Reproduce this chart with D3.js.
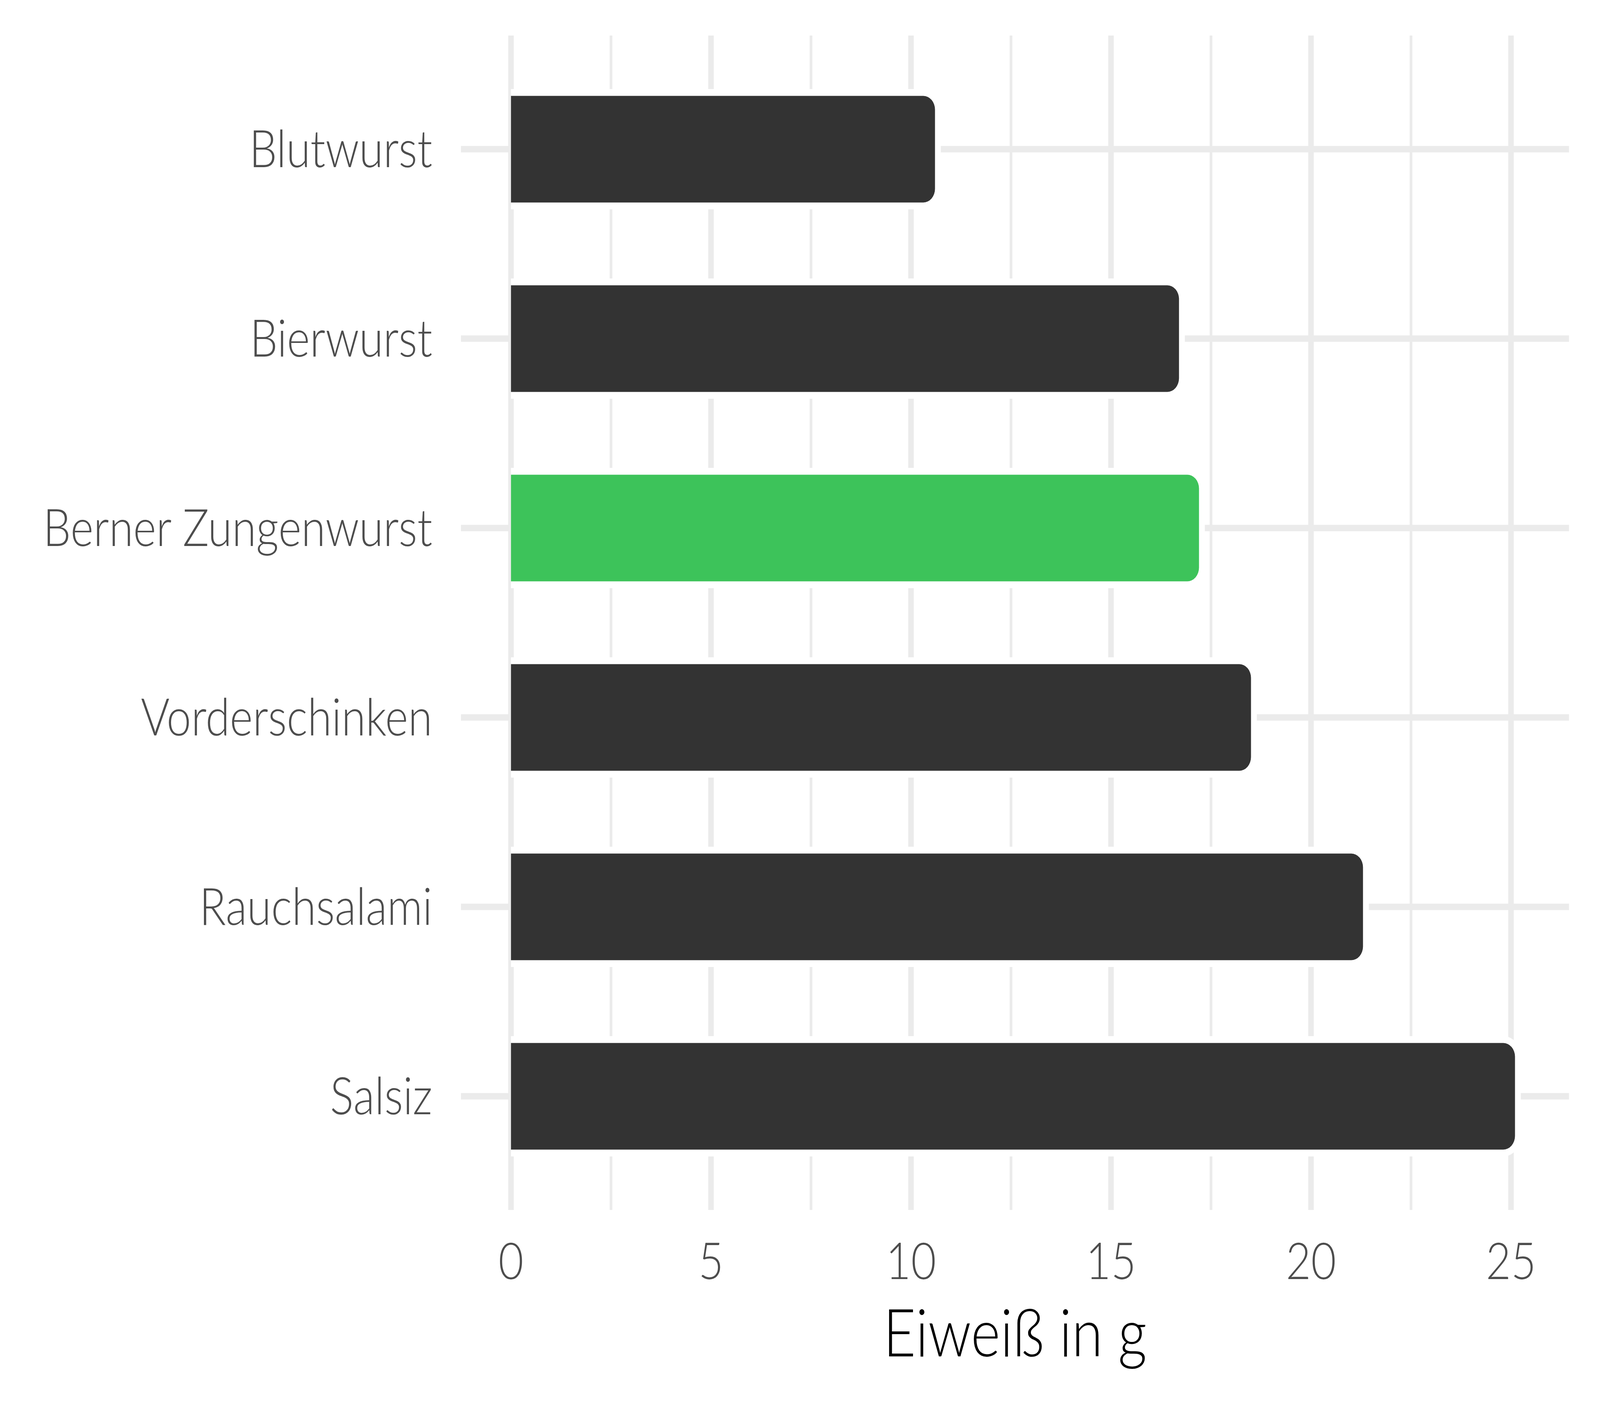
<!DOCTYPE html>
<html>
<head>
<meta charset="utf-8">
<script src="https://cdn.jsdelivr.net/npm/d3@7"></script>
<style>
  html, body { margin: 0; padding: 0; background: #ffffff; overflow: hidden; width: 100%; height: 100%; }
  #chart { width: 100vw; height: 100vh; }
  svg { display: block; width: 100vw; height: 100vh; }
</style>
</head>
<body>
<div id="chart"></div>
<script>
// ---- data ----
const categories = ["Blutwurst", "Bierwurst", "Berner Zungenwurst", "Vorderschinken", "Rauchsalami", "Salsiz"];
const values = [10.6, 16.7, 17.2, 18.5, 21.3, 25.1];
const highlightCategory = "Berner Zungenwurst";
const xMajorTicks = [0, 5, 10, 15, 20, 25];
const xMinorTicks = [2.5, 7.5, 12.5, 17.5, 22.5];
const xTickLabels = ["0", "5", "10", "15", "20", "25"];
const xAxisTitle = "Eiweiß in g";

// ---- layout (drawn in a 4800x3600 coordinate space, fitted to the window) ----
const W = 4800, H = 3600;
const panel = { left: 1383, right: 4707, top: 91, bottom: 3098 };
const FONT = "Lato, 'Open Sans', sans-serif";

const svg = d3.select("#chart").append("svg")
  .attr("viewBox", `0 0 ${W} ${H}`)
  .attr("preserveAspectRatio", "none");

svg.append("rect").attr("width", W).attr("height", H).attr("fill", "#ffffff");

const x = d3.scaleLinear().domain([-1.25, 26.45]).range([panel.left, panel.right]);
const y = d3.scalePoint().domain(categories).range([panel.top, panel.bottom]).padding(0.6);
const step = y.step();
const barH = step * 0.5625;
const halo = 17.5;
const radius = 35;

const grid = svg.append("g");
// minor vertical gridlines
grid.selectAll("line.minor").data(xMinorTicks).enter().append("line")
  .attr("x1", d => x(d)).attr("x2", d => x(d))
  .attr("y1", panel.top).attr("y2", panel.bottom)
  .attr("stroke", "#EBEBEB").attr("stroke-width", 8);
// major vertical gridlines
grid.selectAll("line.major").data(xMajorTicks).enter().append("line")
  .attr("x1", d => x(d)).attr("x2", d => x(d))
  .attr("y1", panel.top).attr("y2", panel.bottom)
  .attr("stroke", "#EBEBEB").attr("stroke-width", 16.5);
// horizontal gridlines
grid.selectAll("line.h").data(categories).enter().append("line")
  .attr("x1", panel.left).attr("x2", panel.right)
  .attr("y1", d => y(d)).attr("y2", d => y(d))
  .attr("stroke", "#EBEBEB").attr("stroke-width", 16.5);

function roundedRight(x0, x1, y0, y1, r) {
  r = Math.min(r, (x1 - x0), (y1 - y0) / 2);
  const p = d3.path();
  p.moveTo(x0, y0);
  p.lineTo(x1 - r, y0);
  p.arcTo(x1, y0, x1, y0 + r, r);
  p.lineTo(x1, y1 - r);
  p.arcTo(x1, y1, x1 - r, y1, r);
  p.lineTo(x0, y1);
  p.closePath();
  return p.toString();
}

const data = categories.map((c, i) => ({ cat: c, val: values[i] }));

// white halo behind bars
svg.append("g").selectAll("path").data(data).enter().append("path")
  .attr("d", d => roundedRight(x(0), x(d.val) + halo, y(d.cat) - barH / 2 - halo, y(d.cat) + barH / 2 + halo, radius + halo))
  .attr("fill", "#ffffff");

// bars
svg.append("g").selectAll("path").data(data).enter().append("path")
  .attr("d", d => roundedRight(x(0), x(d.val), y(d.cat) - barH / 2, y(d.cat) + barH / 2, radius))
  .attr("fill", d => d.cat === highlightCategory ? "#3DC35A" : "#333333");

// y labels
svg.append("g").selectAll("text").data(categories).enter().append("text")
  .attr("x", 1297).attr("y", d => y(d) + 46)
  .attr("text-anchor", "end")
  .attr("font-family", FONT).attr("font-weight", 300)
  .attr("font-size", 132).attr("fill", "#4D4D4D")
  .text(d => d);

// x tick labels
svg.append("g").selectAll("text").data(xMajorTicks).enter().append("text")
  .attr("x", d => x(d)).attr("y", 3275)
  .attr("text-anchor", "middle")
  .attr("font-family", FONT).attr("font-weight", 300)
  .attr("font-size", 130).attr("fill", "#4D4D4D")
  .text((d, i) => xTickLabels[i]);

// x axis title
svg.append("text")
  .attr("x", (panel.left + panel.right) / 2).attr("y", 3473)
  .attr("text-anchor", "middle")
  .attr("font-family", FONT).attr("font-weight", 300)
  .attr("font-size", 169).attr("fill", "#000000")
  .text(xAxisTitle);
</script>
</body>
</html>
